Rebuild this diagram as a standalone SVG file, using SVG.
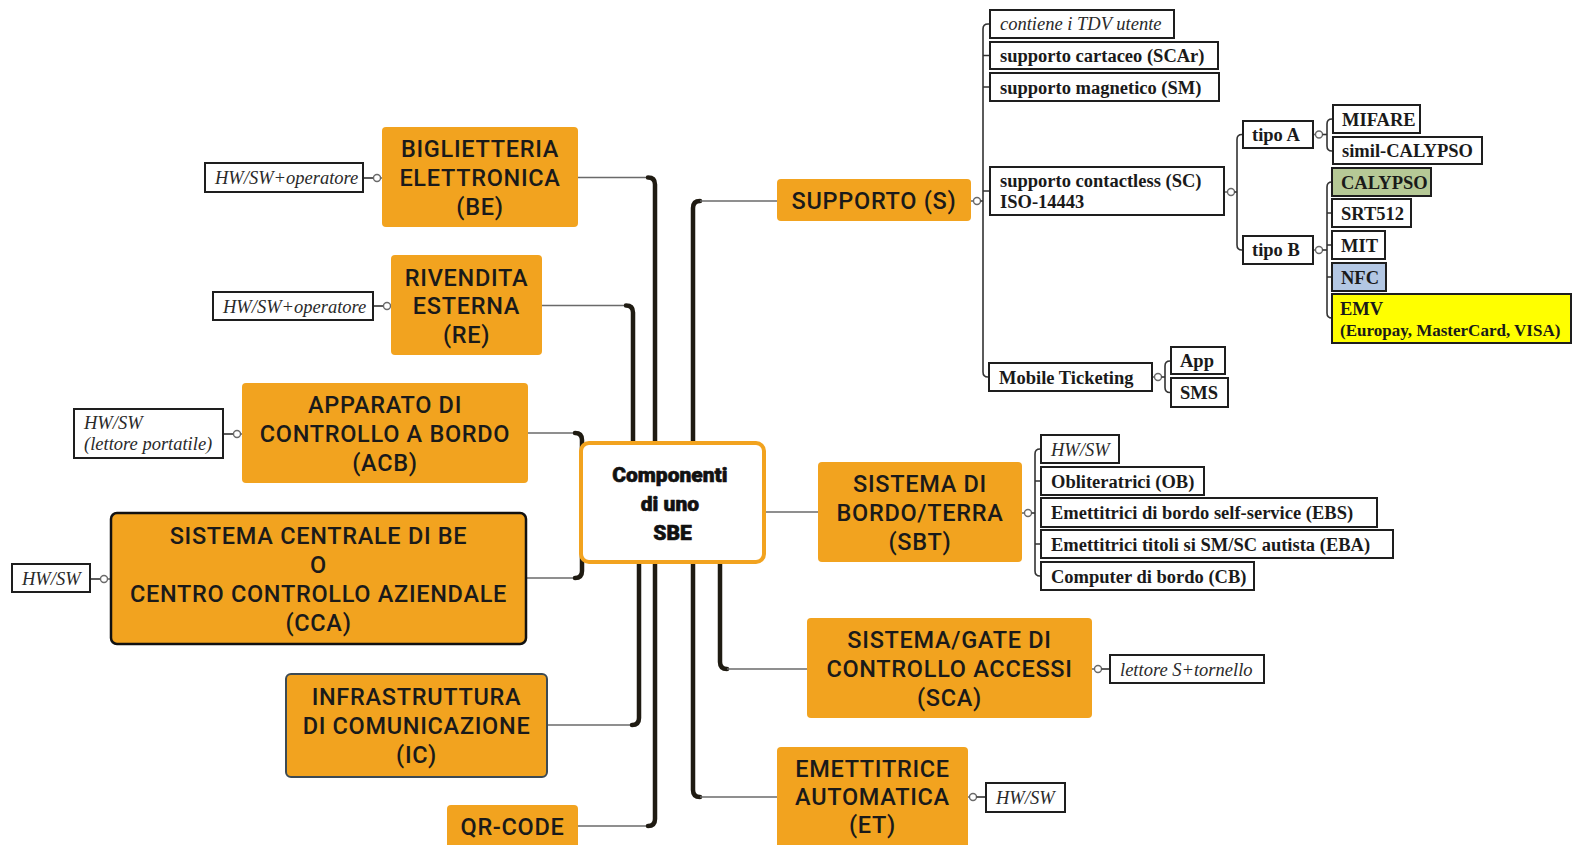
<svg xmlns="http://www.w3.org/2000/svg" width="1573" height="845" viewBox="0 0 1573 845">
  <style>
    .topic { fill: #F2A31F; }
    .topic-text { font-family: Roboto, "Liberation Sans", sans-serif; font-weight: 500; font-size: 23.5px; letter-spacing: 0.7px; fill: #1a1a1a; text-anchor: middle; }
    .leaf { fill: #ffffff; stroke: #1e1e1e; stroke-width: 2; }
    .leaf-text { font-family: "Liberation Serif", "Times New Roman", serif; font-weight: bold; font-size: 18.5px; fill: #1a1a1a; }
    .leaf-note { font-family: "Liberation Serif", "Times New Roman", serif; font-style: italic; font-size: 18.5px; fill: #2a2a2a; }
    .spine { fill: none; stroke: #1f1b12; stroke-width: 4.5; stroke-linecap: round; }
    .branch { fill: none; stroke: #6a6a6a; stroke-width: 1.6; }
    .tree { fill: none; stroke: #333333; stroke-width: 1.6; }
    .knob { fill: #ffffff; stroke: #6a6a6a; stroke-width: 1.4; }
  </style>

  <rect width="1573" height="845" fill="#ffffff"/>

  <!-- connectors -->
  <g id="connectors">
    <!-- central spines, left side -->
    <path class="branch" d="M578,177.5 H648"/>
    <path class="spine" d="M648,177.5 Q655,177.5 655,184.5 V445"/>
    <path class="branch" d="M542,305.5 H626"/>
    <path class="spine" d="M626,305.5 Q633,305.5 633,312.5 V445"/>
    <path class="branch" d="M528,433 H575"/>
    <path class="spine" d="M575,433 Q582,433 582,440 V500"/>
    <path class="branch" d="M527,578 H575"/>
    <path class="spine" d="M575,578 Q582,578 582,571 V500"/>
    <path class="branch" d="M547,725 H632"/>
    <path class="spine" d="M632,725 Q639,725 639,718 V560"/>
    <path class="branch" d="M578,826 H648"/>
    <path class="spine" d="M648,826 Q655,826 655,819 V560"/>
    <!-- central spines, right side -->
    <path class="spine" d="M693,445 V208 Q693,201 700,201"/>
    <path class="branch" d="M700,201 H777"/>
    <path class="spine" d="M693,560 V790 Q693,797 700,797"/>
    <path class="branch" d="M700,797 H777"/>
    <path class="spine" d="M720,560 V662 Q720,669 727,669"/>
    <path class="branch" d="M727,669 H807"/>
    <path class="branch" d="M764,512 H818"/>

    <!-- SUPPORTO subtree -->
    <path class="branch" d="M971,201 H973.5"/>
    <circle class="knob" cx="977" cy="201" r="3.5"/>
    <path class="tree" d="M980.5,201 H983"/>
    <path class="tree" d="M990,24 H988 Q983,24 983,29 V372 Q983,377 988,377 H990"/>
    <path class="tree" d="M983,55.5 H990 M983,87 H990 M983,191 H990"/>

    <path class="branch" d="M1224,192 H1227.5"/>
    <circle class="knob" cx="1231" cy="192" r="3.5"/>
    <path class="tree" d="M1234.5,192 H1237"/>
    <path class="tree" d="M1243,134.5 H1242 Q1237,134.5 1237,139.5 V245 Q1237,250 1242,250 H1243"/>

    <path class="branch" d="M1313,134.5 H1315.5"/>
    <circle class="knob" cx="1319" cy="134.5" r="3.5"/>
    <path class="tree" d="M1322.5,134.5 H1327"/>
    <path class="tree" d="M1333,119 H1332 Q1327,119 1327,124 V146 Q1327,151 1332,151 H1333"/>

    <path class="branch" d="M1313,250 H1315.5"/>
    <circle class="knob" cx="1319" cy="250" r="3.5"/>
    <path class="tree" d="M1322.5,250 H1327"/>
    <path class="tree" d="M1332,182 H1332 Q1327,182 1327,187 V313 Q1327,318 1332,318"/>
    <path class="tree" d="M1327,213 H1332 M1327,245 H1332 M1327,277 H1332"/>

    <path class="branch" d="M1152,377 H1154.5"/>
    <circle class="knob" cx="1158" cy="377" r="3.5"/>
    <path class="tree" d="M1161.5,377 H1165"/>
    <path class="tree" d="M1171,361 H1170 Q1165,361 1165,366 V387.5 Q1165,392.5 1170,392.5 H1171"/>

    <!-- SBT subtree -->
    <path class="branch" d="M1022,513 H1024.5"/>
    <circle class="knob" cx="1028" cy="513" r="3.5"/>
    <path class="tree" d="M1031.5,513 H1035"/>
    <path class="tree" d="M1041,449 H1040 Q1035,449 1035,454 V571 Q1035,576 1040,576 H1041"/>
    <path class="tree" d="M1035,481 H1041 M1035,544 H1041"/>

    <!-- SCA and ET notes -->
    <path class="branch" d="M1092,669 H1094.5"/>
    <circle class="knob" cx="1098" cy="669" r="3.5"/>
    <path class="tree" d="M1101.5,669 H1110"/>
    <path class="branch" d="M968,797 H969.5"/>
    <circle class="knob" cx="973" cy="797" r="3.5"/>
    <path class="tree" d="M976.5,797 H986"/>

    <!-- left notes -->
    <path class="tree" d="M363,178 H373.5"/>
    <circle class="knob" cx="377" cy="178" r="3.5"/>
    <path class="branch" d="M380.5,178 H382"/>
    <path class="tree" d="M373,306 H383.5"/>
    <circle class="knob" cx="387" cy="306" r="3.5"/>
    <path class="branch" d="M390.5,306 H391"/>
    <path class="tree" d="M223,434 H233.5"/>
    <circle class="knob" cx="237" cy="434" r="3.5"/>
    <path class="branch" d="M240.5,434 H242"/>
    <path class="tree" d="M90,579 H100.5"/>
    <circle class="knob" cx="104" cy="579" r="3.5"/>
    <path class="branch" d="M107.5,579 H110"/>
  </g>

  <!-- central topic -->
  <g id="root">
    <rect x="581" y="443" width="183" height="119" rx="8" fill="#ffffff" stroke="#F2A31F" stroke-width="4"/>
    <text x="672.5" text-anchor="middle" font-family="Roboto, 'Liberation Sans', sans-serif" font-weight="900" font-size="21" fill="#111111" stroke="#111111" stroke-width="0.6" stroke-linejoin="round">
      <tspan x="672.5" y="482">Componenti</tspan>
      <tspan x="672.5" y="511">di uno</tspan>
      <tspan x="672.5" y="540">SBE</tspan>
    </text>
  </g>

  <!-- left topics -->
  <g id="be">
    <rect class="topic" x="382" y="127" width="196" height="100" rx="4"/>
    <text class="topic-text"><tspan x="480" y="157">BIGLIETTERIA</tspan><tspan x="480" y="186">ELETTRONICA</tspan><tspan x="480" y="215">(BE)</tspan></text>
  </g>
  <g id="be-note">
    <rect class="leaf" x="205" y="163" width="158" height="29"/>
    <text class="leaf-note" x="215" y="184">HW/SW+operatore</text>
  </g>

  <g id="re">
    <rect class="topic" x="391" y="255" width="151" height="100" rx="4"/>
    <text class="topic-text"><tspan x="466.5" y="286">RIVENDITA</tspan><tspan x="466.5" y="314">ESTERNA</tspan><tspan x="466.5" y="343">(RE)</tspan></text>
  </g>
  <g id="re-note">
    <rect class="leaf" x="213" y="292" width="160" height="28"/>
    <text class="leaf-note" x="223" y="313">HW/SW+operatore</text>
  </g>

  <g id="acb">
    <rect class="topic" x="242" y="383" width="286" height="100" rx="4"/>
    <text class="topic-text"><tspan x="385" y="413">APPARATO DI</tspan><tspan x="385" y="442">CONTROLLO A BORDO</tspan><tspan x="385" y="471">(ACB)</tspan></text>
  </g>
  <g id="acb-note">
    <rect class="leaf" x="74" y="409" width="149" height="49"/>
    <text class="leaf-note"><tspan x="84" y="429">HW/SW</tspan><tspan x="84" y="450">(lettore portatile)</tspan></text>
  </g>

  <g id="cca">
    <rect class="topic" x="111" y="513" width="415" height="131" rx="6" stroke="#111111" stroke-width="2.5"/>
    <text class="topic-text"><tspan x="318.5" y="544">SISTEMA CENTRALE DI BE</tspan><tspan x="318.5" y="573">O</tspan><tspan x="318.5" y="602">CENTRO CONTROLLO AZIENDALE</tspan><tspan x="318.5" y="631">(CCA)</tspan></text>
  </g>
  <g id="cca-note">
    <rect class="leaf" x="12" y="564" width="78" height="28"/>
    <text class="leaf-note" x="22" y="585">HW/SW</text>
  </g>

  <g id="ic">
    <rect class="topic" x="286" y="674" width="261" height="103" rx="5" stroke="#3c4a54" stroke-width="2"/>
    <text class="topic-text"><tspan x="416.5" y="705">INFRASTRUTTURA</tspan><tspan x="416.5" y="734">DI COMUNICAZIONE</tspan><tspan x="416.5" y="763">(IC)</tspan></text>
  </g>

  <g id="qr">
    <rect class="topic" x="447" y="805" width="131" height="50" rx="4"/>
    <text class="topic-text" x="512.5" y="835">QR-CODE</text>
  </g>

  <!-- right topics -->
  <g id="supporto">
    <rect class="topic" x="777" y="179" width="194" height="42" rx="4"/>
    <text class="topic-text" x="874" y="209">SUPPORTO (S)</text>
  </g>

  <g id="sbt">
    <rect class="topic" x="818" y="462" width="204" height="100" rx="4"/>
    <text class="topic-text"><tspan x="920" y="492">SISTEMA DI</tspan><tspan x="920" y="521">BORDO/TERRA</tspan><tspan x="920" y="550">(SBT)</tspan></text>
  </g>

  <g id="sca">
    <rect class="topic" x="807" y="618" width="285" height="100" rx="4"/>
    <text class="topic-text"><tspan x="949.5" y="648">SISTEMA/GATE DI</tspan><tspan x="949.5" y="677">CONTROLLO ACCESSI</tspan><tspan x="949.5" y="706">(SCA)</tspan></text>
  </g>
  <g id="sca-note">
    <rect class="leaf" x="1110" y="655" width="154" height="28"/>
    <text class="leaf-note" x="1120" y="676">lettore S+tornello</text>
  </g>

  <g id="et">
    <rect class="topic" x="777" y="747" width="191" height="108" rx="4"/>
    <text class="topic-text"><tspan x="872.5" y="777">EMETTITRICE</tspan><tspan x="872.5" y="805">AUTOMATICA</tspan><tspan x="872.5" y="833">(ET)</tspan></text>
  </g>
  <g id="et-note">
    <rect class="leaf" x="986" y="783" width="79" height="29"/>
    <text class="leaf-note" x="996" y="804">HW/SW</text>
  </g>

  <!-- SUPPORTO details -->
  <g id="s-tdv">
    <rect class="leaf" x="990" y="10" width="184" height="28"/>
    <text class="leaf-note" x="1000" y="30">contiene i TDV utente</text>
  </g>
  <g id="s-scar">
    <rect class="leaf" x="990" y="42" width="228" height="27"/>
    <text class="leaf-text" x="1000" y="62">supporto cartaceo (SCAr)</text>
  </g>
  <g id="s-sm">
    <rect class="leaf" x="990" y="73" width="229" height="28"/>
    <text class="leaf-text" x="1000" y="94">supporto magnetico (SM)</text>
  </g>
  <g id="s-sc">
    <rect class="leaf" x="990" y="167" width="234" height="48"/>
    <text class="leaf-text"><tspan x="1000" y="187">supporto contactless (SC)</tspan><tspan x="1000" y="208">ISO-14443</tspan></text>
  </g>
  <g id="s-mobile">
    <rect class="leaf" x="989" y="363" width="163" height="28"/>
    <text class="leaf-text" x="999" y="384">Mobile Ticketing</text>
  </g>

  <g id="tipo-a">
    <rect class="leaf" x="1243" y="121" width="70" height="27"/>
    <text class="leaf-text" x="1252" y="141">tipo A</text>
  </g>
  <g id="tipo-b">
    <rect class="leaf" x="1243" y="236" width="70" height="28"/>
    <text class="leaf-text" x="1252" y="256">tipo B</text>
  </g>
  <g id="mifare">
    <rect class="leaf" x="1333" y="105" width="87" height="28"/>
    <text class="leaf-text" x="1342" y="126">MIFARE</text>
  </g>
  <g id="simil-calypso">
    <rect class="leaf" x="1333" y="137" width="149" height="27"/>
    <text class="leaf-text" x="1342" y="157">simil-CALYPSO</text>
  </g>
  <g id="calypso">
    <rect class="leaf" x="1332" y="168" width="99" height="28" style="fill:#b6c996"/>
    <text class="leaf-text" x="1341" y="189">CALYPSO</text>
  </g>
  <g id="srt512">
    <rect class="leaf" x="1332" y="199" width="79" height="28"/>
    <text class="leaf-text" x="1341" y="220">SRT512</text>
  </g>
  <g id="mit">
    <rect class="leaf" x="1332" y="231" width="53" height="28"/>
    <text class="leaf-text" x="1341" y="252">MIT</text>
  </g>
  <g id="nfc">
    <rect class="leaf" x="1332" y="263" width="54" height="28" style="fill:#b3c7e3"/>
    <text class="leaf-text" x="1341" y="284">NFC</text>
  </g>
  <g id="emv">
    <rect class="leaf" x="1332" y="294" width="239" height="49" style="fill:#ffff00"/>
    <text class="leaf-text"><tspan x="1340" y="315">EMV</tspan><tspan x="1340" y="336" style="font-size:17px">(Europay, MasterCard, VISA)</tspan></text>
  </g>
  <g id="app">
    <rect class="leaf" x="1171" y="347" width="54" height="27"/>
    <text class="leaf-text" x="1180" y="367">App</text>
  </g>
  <g id="sms">
    <rect class="leaf" x="1171" y="378" width="57" height="29"/>
    <text class="leaf-text" x="1180" y="399">SMS</text>
  </g>

  <!-- SBT details -->
  <g id="sbt-hw">
    <rect class="leaf" x="1041" y="435" width="78" height="28"/>
    <text class="leaf-note" x="1051" y="456">HW/SW</text>
  </g>
  <g id="sbt-ob">
    <rect class="leaf" x="1041" y="467" width="163" height="28"/>
    <text class="leaf-text" x="1051" y="488">Obliteratrici (OB)</text>
  </g>
  <g id="sbt-ebs">
    <rect class="leaf" x="1041" y="498" width="336" height="29"/>
    <text class="leaf-text" x="1051" y="519">Emettitrici di bordo self-service (EBS)</text>
  </g>
  <g id="sbt-eba">
    <rect class="leaf" x="1041" y="530" width="352" height="28"/>
    <text class="leaf-text" x="1051" y="551">Emettitrici titoli si SM/SC autista (EBA)</text>
  </g>
  <g id="sbt-cb">
    <rect class="leaf" x="1041" y="562" width="213" height="28"/>
    <text class="leaf-text" x="1051" y="583">Computer di bordo (CB)</text>
  </g>
</svg>
